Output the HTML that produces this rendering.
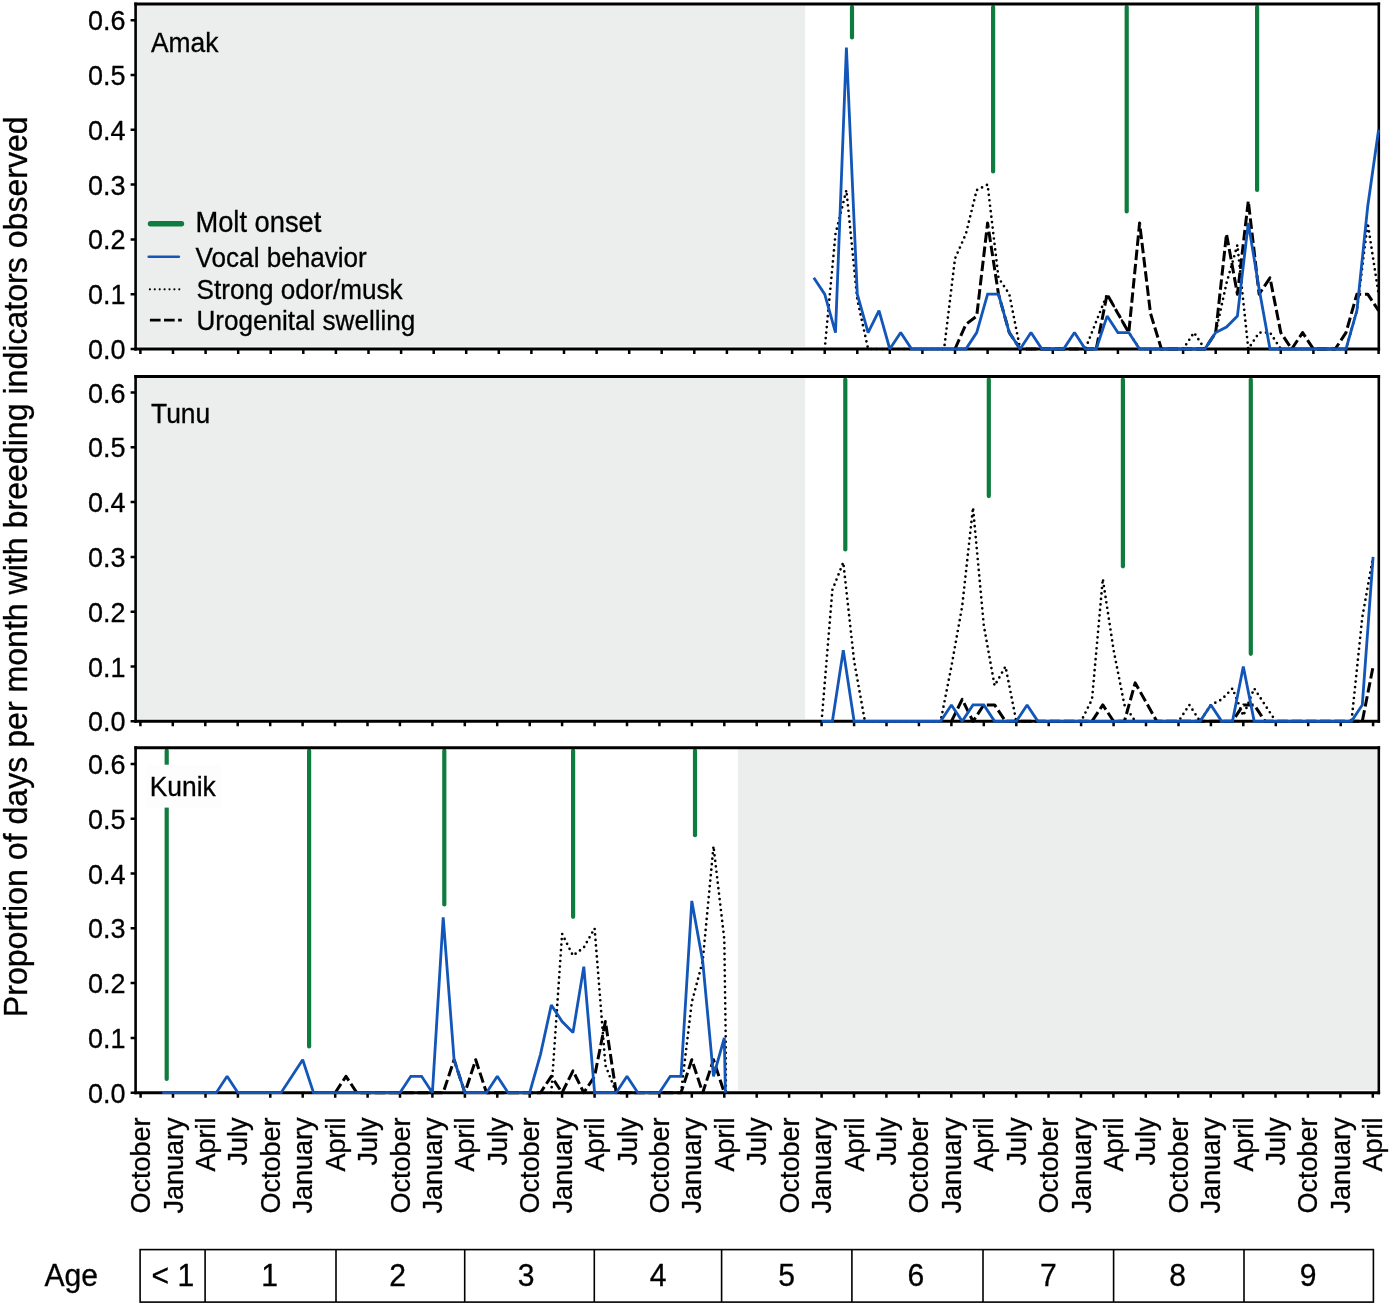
<!DOCTYPE html>
<html lang="en">
<head>
<meta charset="utf-8">
<title>Breeding indicators by month</title>
<style>
html,body{margin:0;padding:0;background:#fff;}
svg{display:block;}
text{font-family:"Liberation Sans", Arial, sans-serif;fill:#000;stroke:#000;stroke-width:0.3px;}
</style>
</head>
<body>
<svg width="1390" height="1306" viewBox="0 0 1390 1306">
<rect x="0" y="0" width="1390" height="1306" fill="#fff"/>
<g>
<rect x="135.6" y="5.5" width="669.6" height="341.0" fill="#eceeed"/>
<line x1="852.0" y1="7.1" x2="852.0" y2="37.4" stroke="#0e7c3e" stroke-width="4.2" stroke-linecap="round"/>
<line x1="993.1" y1="7.1" x2="993.1" y2="171.5" stroke="#0e7c3e" stroke-width="4.2" stroke-linecap="round"/>
<line x1="1126.7" y1="7.1" x2="1126.7" y2="211.5" stroke="#0e7c3e" stroke-width="4.2" stroke-linecap="round"/>
<line x1="1257.1" y1="7.1" x2="1257.1" y2="189.9" stroke="#0e7c3e" stroke-width="4.2" stroke-linecap="round"/>
<polyline points="955.0,349.0 965.9,324.3 976.7,316.1 987.6,223.0 998.5,294.2 1009.3,332.6 1020.2,349.0 1031.0,349.0 1041.9,349.0 1052.8,349.0 1063.6,349.0 1074.5,349.0 1085.3,349.0 1096.2,349.0 1107.1,294.2 1117.9,313.4 1128.8,332.6 1139.6,223.0 1150.5,313.4 1161.4,349.0 1172.2,349.0 1183.1,349.0 1194.0,349.0 1204.8,349.0 1215.7,332.6 1226.5,233.9 1237.4,294.2 1248.3,201.0 1259.1,294.2 1270.0,277.8 1280.8,332.6 1291.7,349.0 1302.6,332.6 1313.4,349.0 1324.3,349.0 1335.2,349.0 1346.0,332.6 1356.9,294.2 1367.7,294.2 1378.6,310.6" fill="none" stroke="#000" stroke-width="3.0" stroke-dasharray="10.5 3.8" stroke-linejoin="round"/>
<polyline points="824.7,349.0 835.5,233.9 846.4,190.1 857.3,299.7 868.1,349.0 879.0,349.0 889.8,349.0 900.7,349.0 911.6,349.0 922.4,349.0 933.3,349.0 944.1,349.0 955.0,258.6 965.9,233.9 976.7,190.1 987.6,184.6 998.5,277.8 1009.3,294.2 1020.2,349.0 1031.0,349.0 1041.9,349.0 1052.8,349.0 1063.6,349.0 1074.5,349.0 1085.3,349.0 1096.2,321.6 1107.1,294.2 1117.9,313.4 1128.8,332.6 1139.6,349.0 1150.5,349.0 1161.4,349.0 1172.2,349.0 1183.1,349.0 1194.0,332.6 1204.8,349.0 1215.7,332.6 1226.5,283.2 1237.4,244.9 1248.3,349.0 1259.1,332.6 1270.0,332.6 1280.8,349.0 1291.7,349.0 1302.6,349.0 1313.4,349.0 1324.3,349.0 1335.2,349.0 1346.0,349.0 1356.9,310.6 1367.7,223.0 1378.6,294.2" fill="none" stroke="#000" stroke-width="2.7" stroke-dasharray="0 5.5" stroke-linecap="round" stroke-linejoin="round"/>
<path d="M134.3 4.1H1380.1M134.3 349.0H1380.1" fill="none" stroke="#000" stroke-width="3"/>
<path d="M135.6 2.6V350.5M1378.8 2.6V350.5" fill="none" stroke="#000" stroke-width="2.6"/>
<path d="M140.4 349.0v5 M173.0 349.0v5 M205.6 349.0v5 M238.2 349.0v5 M270.7 349.0v5 M303.3 349.0v5 M335.9 349.0v5 M368.5 349.0v5 M401.1 349.0v5 M433.7 349.0v5 M466.2 349.0v5 M498.8 349.0v5 M531.4 349.0v5 M564.0 349.0v5 M596.6 349.0v5 M629.2 349.0v5 M661.7 349.0v5 M694.3 349.0v5 M726.9 349.0v5 M759.5 349.0v5 M792.1 349.0v5 M824.7 349.0v5 M857.3 349.0v5 M889.8 349.0v5 M922.4 349.0v5 M955.0 349.0v5 M987.6 349.0v5 M1020.2 349.0v5 M1052.8 349.0v5 M1085.3 349.0v5 M1117.9 349.0v5 M1150.5 349.0v5 M1183.1 349.0v5 M1215.7 349.0v5 M1248.3 349.0v5 M1280.8 349.0v5 M1313.4 349.0v5 M1346.0 349.0v5 M1378.6 349.0v5" stroke="#000" stroke-width="2.5" fill="none"/>
<path d="M135.6 349.0h-5 M135.6 294.2h-5 M135.6 239.4h-5 M135.6 184.6h-5 M135.6 129.8h-5 M135.6 75.0h-5 M135.6 20.2h-5" stroke="#000" stroke-width="2.5" fill="none"/>
<text transform="translate(125.5 359.0) scale(1 1.050)" font-size="27.0" text-anchor="end">0.0</text>
<text transform="translate(125.5 304.2) scale(1 1.050)" font-size="27.0" text-anchor="end">0.1</text>
<text transform="translate(125.5 249.4) scale(1 1.050)" font-size="27.0" text-anchor="end">0.2</text>
<text transform="translate(125.5 194.6) scale(1 1.050)" font-size="27.0" text-anchor="end">0.3</text>
<text transform="translate(125.5 139.8) scale(1 1.050)" font-size="27.0" text-anchor="end">0.4</text>
<text transform="translate(125.5 85.0) scale(1 1.050)" font-size="27.0" text-anchor="end">0.5</text>
<text transform="translate(125.5 30.2) scale(1 1.050)" font-size="27.0" text-anchor="end">0.6</text>
<polyline points="813.8,277.8 824.7,294.2 835.5,332.6 846.4,47.6 857.3,294.2 868.1,332.6 879.0,310.6 889.8,349.0 900.7,332.6 911.6,349.0 922.4,349.0 933.3,349.0 944.1,349.0 955.0,349.0 965.9,349.0 976.7,332.6 987.6,294.2 998.5,294.2 1009.3,332.6 1020.2,349.0 1031.0,332.6 1041.9,349.0 1052.8,349.0 1063.6,349.0 1074.5,332.6 1085.3,349.0 1096.2,349.0 1107.1,316.1 1117.9,332.6 1128.8,332.6 1139.6,349.0 1150.5,349.0 1161.4,349.0 1172.2,349.0 1183.1,349.0 1194.0,349.0 1204.8,349.0 1215.7,332.6 1226.5,327.1 1237.4,316.1 1248.3,223.0 1259.1,288.7 1270.0,349.0 1280.8,349.0 1291.7,349.0 1302.6,349.0 1313.4,349.0 1324.3,349.0 1335.2,349.0 1346.0,349.0 1356.9,310.6 1367.7,206.5 1378.6,129.8" fill="none" stroke="#1156b8" stroke-width="2.8" stroke-linejoin="miter" stroke-miterlimit="1.6"/>
<text transform="translate(151.0 52.4) scale(1 1.050)" font-size="26.4">Amak</text>
</g>
<g>
<rect x="135.6" y="378.0" width="669.6" height="340.8" fill="#eceeed"/>
<line x1="845.3" y1="379.6" x2="845.3" y2="549.5" stroke="#0e7c3e" stroke-width="4.2" stroke-linecap="round"/>
<line x1="988.8" y1="379.6" x2="988.8" y2="496.1" stroke="#0e7c3e" stroke-width="4.2" stroke-linecap="round"/>
<line x1="1122.9" y1="379.6" x2="1122.9" y2="566.3" stroke="#0e7c3e" stroke-width="4.2" stroke-linecap="round"/>
<line x1="1250.8" y1="379.6" x2="1250.8" y2="653.8" stroke="#0e7c3e" stroke-width="4.2" stroke-linecap="round"/>
<polyline points="951.4,721.3 962.2,699.4 973.0,721.3 983.8,704.9 994.6,704.9 1005.5,721.3 1016.3,721.3 1027.1,721.3 1037.9,721.3 1048.7,721.3 1059.5,721.3 1070.3,721.3 1081.1,721.3 1092.0,721.3 1102.8,704.9 1113.6,721.3 1124.4,721.3 1135.2,682.9 1146.0,702.1 1156.8,721.3 1167.6,721.3 1178.5,721.3 1189.3,721.3 1200.1,721.3 1210.9,721.3 1221.7,721.3 1232.5,721.3 1243.3,704.9 1254.2,704.9 1265.0,721.3 1275.8,721.3 1286.6,721.3 1297.4,721.3 1308.2,721.3 1319.0,721.3 1329.8,721.3 1340.7,721.3 1351.5,721.3 1362.3,721.3 1373.1,666.5" fill="none" stroke="#000" stroke-width="3.0" stroke-dasharray="10.5 3.8" stroke-linejoin="round"/>
<polyline points="821.6,721.3 832.4,589.8 843.3,562.4 854.1,661.0 864.9,721.3 875.7,721.3 886.5,721.3 897.3,721.3 908.1,721.3 918.9,721.3 929.8,721.3 940.6,721.3 951.4,666.5 962.2,606.2 973.0,507.6 983.8,625.4 994.6,685.7 1005.5,666.5 1016.3,721.3 1027.1,721.3 1037.9,721.3 1048.7,721.3 1059.5,721.3 1070.3,721.3 1081.1,721.3 1092.0,699.4 1102.8,578.8 1113.6,650.1 1124.4,704.9 1135.2,721.3 1146.0,721.3 1156.8,721.3 1167.6,721.3 1178.5,721.3 1189.3,704.9 1200.1,721.3 1210.9,704.9 1221.7,699.4 1232.5,688.4 1243.3,715.8 1254.2,688.4 1265.0,704.9 1275.8,721.3 1286.6,721.3 1297.4,721.3 1308.2,721.3 1319.0,721.3 1329.8,721.3 1340.7,721.3 1351.5,721.3 1362.3,617.2 1373.1,556.9" fill="none" stroke="#000" stroke-width="2.7" stroke-dasharray="0 5.5" stroke-linecap="round" stroke-linejoin="round"/>
<path d="M134.3 376.6H1380.1M134.3 721.3H1380.1" fill="none" stroke="#000" stroke-width="3"/>
<path d="M135.6 375.1V722.8M1378.8 375.1V722.8" fill="none" stroke="#000" stroke-width="2.6"/>
<path d="M140.4 721.3v5 M172.8 721.3v5 M205.3 721.3v5 M237.7 721.3v5 M270.2 721.3v5 M302.6 721.3v5 M335.0 721.3v5 M367.5 721.3v5 M399.9 721.3v5 M432.4 721.3v5 M464.8 721.3v5 M497.2 721.3v5 M529.7 721.3v5 M562.1 721.3v5 M594.6 721.3v5 M627.0 721.3v5 M659.4 721.3v5 M691.9 721.3v5 M724.3 721.3v5 M756.7 721.3v5 M789.2 721.3v5 M821.6 721.3v5 M854.1 721.3v5 M886.5 721.3v5 M918.9 721.3v5 M951.4 721.3v5 M983.8 721.3v5 M1016.3 721.3v5 M1048.7 721.3v5 M1081.1 721.3v5 M1113.6 721.3v5 M1146.0 721.3v5 M1178.5 721.3v5 M1210.9 721.3v5 M1243.3 721.3v5 M1275.8 721.3v5 M1308.2 721.3v5 M1340.7 721.3v5 M1373.1 721.3v5" stroke="#000" stroke-width="2.5" fill="none"/>
<path d="M135.6 721.3h-5 M135.6 666.5h-5 M135.6 611.7h-5 M135.6 556.9h-5 M135.6 502.1h-5 M135.6 447.3h-5 M135.6 392.5h-5" stroke="#000" stroke-width="2.5" fill="none"/>
<text transform="translate(125.5 731.3) scale(1 1.050)" font-size="27.0" text-anchor="end">0.0</text>
<text transform="translate(125.5 676.5) scale(1 1.050)" font-size="27.0" text-anchor="end">0.1</text>
<text transform="translate(125.5 621.7) scale(1 1.050)" font-size="27.0" text-anchor="end">0.2</text>
<text transform="translate(125.5 566.9) scale(1 1.050)" font-size="27.0" text-anchor="end">0.3</text>
<text transform="translate(125.5 512.1) scale(1 1.050)" font-size="27.0" text-anchor="end">0.4</text>
<text transform="translate(125.5 457.3) scale(1 1.050)" font-size="27.0" text-anchor="end">0.5</text>
<text transform="translate(125.5 402.5) scale(1 1.050)" font-size="27.0" text-anchor="end">0.6</text>
<polyline points="821.6,721.3 832.4,721.3 843.3,650.1 854.1,721.3 864.9,721.3 875.7,721.3 886.5,721.3 897.3,721.3 908.1,721.3 918.9,721.3 929.8,721.3 940.6,721.3 951.4,704.9 962.2,721.3 973.0,704.9 983.8,704.9 994.6,721.3 1005.5,721.3 1016.3,721.3 1027.1,704.9 1037.9,721.3 1048.7,721.3 1059.5,721.3 1070.3,721.3 1081.1,721.3 1092.0,721.3 1102.8,721.3 1113.6,721.3 1124.4,721.3 1135.2,721.3 1146.0,721.3 1156.8,721.3 1167.6,721.3 1178.5,721.3 1189.3,721.3 1200.1,721.3 1210.9,704.9 1221.7,721.3 1232.5,721.3 1243.3,666.5 1254.2,721.3 1265.0,721.3 1275.8,721.3 1286.6,721.3 1297.4,721.3 1308.2,721.3 1319.0,721.3 1329.8,721.3 1340.7,721.3 1351.5,721.3 1362.3,704.9 1373.1,556.9" fill="none" stroke="#1156b8" stroke-width="2.8" stroke-linejoin="miter" stroke-miterlimit="1.6"/>
<text transform="translate(151.0 422.8) scale(1 1.050)" font-size="26.4">Tunu</text>
</g>
<g>
<rect x="737.8" y="749.1" width="639.0" height="341.1" fill="#eceeed"/>
<line x1="166.7" y1="750.7" x2="166.7" y2="1078.9" stroke="#0e7c3e" stroke-width="4.2" stroke-linecap="round"/>
<line x1="309.1" y1="750.7" x2="309.1" y2="1046.4" stroke="#0e7c3e" stroke-width="4.2" stroke-linecap="round"/>
<line x1="444.3" y1="750.7" x2="444.3" y2="904.5" stroke="#0e7c3e" stroke-width="4.2" stroke-linecap="round"/>
<line x1="573.1" y1="750.7" x2="573.1" y2="916.8" stroke="#0e7c3e" stroke-width="4.2" stroke-linecap="round"/>
<line x1="695.0" y1="750.7" x2="695.0" y2="835.2" stroke="#0e7c3e" stroke-width="4.2" stroke-linecap="round"/>
<rect x="145.7" y="764.7" width="75.2" height="42.9" fill="#fdfdfd"/>
<polyline points="335.2,1092.7 346.0,1076.3 356.8,1092.7 367.6,1092.7 378.4,1092.7 389.2,1092.7 400.0,1092.7 410.8,1092.7 421.6,1092.7 432.4,1092.7 443.2,1092.7 454.1,1059.8 464.9,1092.7 475.7,1059.8 486.5,1092.7 497.3,1092.7 508.1,1092.7 518.9,1092.7 529.7,1092.7 540.5,1092.7 551.3,1076.3 562.1,1092.7 573.0,1070.8 583.8,1092.7 594.6,1076.3 605.4,1021.5 616.2,1092.7 627.0,1092.7 637.8,1092.7 648.6,1092.7 659.4,1092.7 670.2,1092.7 681.0,1092.7 691.8,1059.8 702.7,1092.7 713.5,1059.8 724.3,1092.7" fill="none" stroke="#000" stroke-width="3.0" stroke-dasharray="10.5 3.8" stroke-linejoin="round"/>
<polyline points="551.3,1092.7 562.1,933.8 573.0,955.7 583.8,947.5 594.6,928.3 605.4,1065.3 616.2,1092.7 627.0,1092.7 637.8,1092.7 648.6,1092.7 659.4,1092.7 670.2,1092.7 681.0,1092.7 691.8,1002.3 702.7,961.2 713.5,846.1 724.3,939.3 725.7,1037.9 725.9,1092.7" fill="none" stroke="#000" stroke-width="2.7" stroke-dasharray="0 5.5" stroke-linecap="round" stroke-linejoin="round"/>
<path d="M134.3 747.7H1380.1M134.3 1092.7H1380.1" fill="none" stroke="#000" stroke-width="3"/>
<path d="M135.6 746.2V1094.2M1378.8 746.2V1094.2" fill="none" stroke="#000" stroke-width="2.6"/>
<path d="M140.6 1092.7v5 M173.0 1092.7v5 M205.5 1092.7v5 M237.9 1092.7v5 M270.3 1092.7v5 M302.7 1092.7v5 M335.2 1092.7v5 M367.6 1092.7v5 M400.0 1092.7v5 M432.4 1092.7v5 M464.9 1092.7v5 M497.3 1092.7v5 M529.7 1092.7v5 M562.1 1092.7v5 M594.6 1092.7v5 M627.0 1092.7v5 M659.4 1092.7v5 M691.8 1092.7v5 M724.3 1092.7v5 M756.7 1092.7v5 M789.1 1092.7v5 M821.6 1092.7v5 M854.0 1092.7v5 M886.4 1092.7v5 M918.8 1092.7v5 M951.3 1092.7v5 M983.7 1092.7v5 M1016.1 1092.7v5 M1048.5 1092.7v5 M1081.0 1092.7v5 M1113.4 1092.7v5 M1145.8 1092.7v5 M1178.2 1092.7v5 M1210.7 1092.7v5 M1243.1 1092.7v5 M1275.5 1092.7v5 M1307.9 1092.7v5 M1340.4 1092.7v5 M1372.8 1092.7v5" stroke="#000" stroke-width="2.5" fill="none"/>
<path d="M135.6 1092.7h-5 M135.6 1037.9h-5 M135.6 983.1h-5 M135.6 928.3h-5 M135.6 873.5h-5 M135.6 818.7h-5 M135.6 763.9h-5" stroke="#000" stroke-width="2.5" fill="none"/>
<text transform="translate(125.5 1102.7) scale(1 1.050)" font-size="27.0" text-anchor="end">0.0</text>
<text transform="translate(125.5 1047.9) scale(1 1.050)" font-size="27.0" text-anchor="end">0.1</text>
<text transform="translate(125.5 993.1) scale(1 1.050)" font-size="27.0" text-anchor="end">0.2</text>
<text transform="translate(125.5 938.3) scale(1 1.050)" font-size="27.0" text-anchor="end">0.3</text>
<text transform="translate(125.5 883.5) scale(1 1.050)" font-size="27.0" text-anchor="end">0.4</text>
<text transform="translate(125.5 828.7) scale(1 1.050)" font-size="27.0" text-anchor="end">0.5</text>
<text transform="translate(125.5 773.9) scale(1 1.050)" font-size="27.0" text-anchor="end">0.6</text>
<polyline points="162.2,1092.7 173.0,1092.7 183.8,1092.7 194.6,1092.7 205.5,1092.7 216.3,1092.7 227.1,1076.3 237.9,1092.7 248.7,1092.7 259.5,1092.7 270.3,1092.7 281.1,1092.7 291.9,1076.3 302.7,1059.8 313.5,1092.7 324.3,1092.7 335.2,1092.7 346.0,1092.7 356.8,1092.7 367.6,1092.7 378.4,1092.7 389.2,1092.7 400.0,1092.7 410.8,1076.3 421.6,1076.3 432.4,1092.7 443.2,917.3 454.1,1059.8 464.9,1092.7 475.7,1092.7 486.5,1092.7 497.3,1076.3 508.1,1092.7 518.9,1092.7 529.7,1092.7 540.5,1054.3 551.3,1005.0 562.1,1021.5 573.0,1032.4 583.8,966.7 594.6,1092.7 605.4,1092.7 616.2,1092.7 627.0,1076.3 637.8,1092.7 648.6,1092.7 659.4,1092.7 670.2,1076.3 681.0,1076.3 691.8,900.9 702.7,961.2 713.5,1076.3 724.3,1037.9 725.4,1092.7" fill="none" stroke="#1156b8" stroke-width="2.8" stroke-linejoin="miter" stroke-miterlimit="1.6"/>
<text transform="translate(149.7 795.8) scale(1 1.050)" font-size="26.4">Kunik</text>
</g>
<g>
<line x1="150.5" y1="223.8" x2="181.5" y2="223.8" stroke="#0e7c3e" stroke-width="5.4" stroke-linecap="round"/>
<text transform="translate(195.4 232.0) scale(1 1.050)" font-size="27.3">Molt onset</text>
<line x1="148.7" y1="256.7" x2="178.9" y2="256.7" stroke="#1156b8" stroke-width="2.5" stroke-linecap="round"/>
<text transform="translate(195.6 266.6) scale(1 1.050)" font-size="26.1">Vocal behavior</text>
<line x1="149.9" y1="289.3" x2="181.0" y2="289.3" stroke="#000" stroke-width="2.2" stroke-dasharray="0 4.9" stroke-linecap="round"/>
<text transform="translate(196.6 299.3) scale(1 1.050)" font-size="26.1">Strong odor/musk</text>
<line x1="149.9" y1="320.2" x2="181.8" y2="320.2" stroke="#000" stroke-width="2.7" stroke-dasharray="10.7 3.4"/>
<text transform="translate(196.4 330.2) scale(1 1.050)" font-size="26.1">Urogenital swelling</text>
</g>
<text transform="translate(27.3 1017.2) rotate(-90) scale(1 1.050)" font-size="32.1">Proportion of days per month with breeding indicators observed</text>
<g>
<text transform="translate(150.1 1117.4) rotate(-90) scale(1 1.050)" font-size="27.0" text-anchor="end">October</text>
<text transform="translate(182.5 1117.4) rotate(-90) scale(1 1.050)" font-size="27.0" text-anchor="end">January</text>
<text transform="translate(215.0 1117.4) rotate(-90) scale(1 1.050)" font-size="27.0" text-anchor="end">April</text>
<text transform="translate(247.4 1117.4) rotate(-90) scale(1 1.050)" font-size="27.0" text-anchor="end">July</text>
<text transform="translate(279.8 1117.4) rotate(-90) scale(1 1.050)" font-size="27.0" text-anchor="end">October</text>
<text transform="translate(312.2 1117.4) rotate(-90) scale(1 1.050)" font-size="27.0" text-anchor="end">January</text>
<text transform="translate(344.7 1117.4) rotate(-90) scale(1 1.050)" font-size="27.0" text-anchor="end">April</text>
<text transform="translate(377.1 1117.4) rotate(-90) scale(1 1.050)" font-size="27.0" text-anchor="end">July</text>
<text transform="translate(409.5 1117.4) rotate(-90) scale(1 1.050)" font-size="27.0" text-anchor="end">October</text>
<text transform="translate(441.9 1117.4) rotate(-90) scale(1 1.050)" font-size="27.0" text-anchor="end">January</text>
<text transform="translate(474.4 1117.4) rotate(-90) scale(1 1.050)" font-size="27.0" text-anchor="end">April</text>
<text transform="translate(506.8 1117.4) rotate(-90) scale(1 1.050)" font-size="27.0" text-anchor="end">July</text>
<text transform="translate(539.2 1117.4) rotate(-90) scale(1 1.050)" font-size="27.0" text-anchor="end">October</text>
<text transform="translate(571.6 1117.4) rotate(-90) scale(1 1.050)" font-size="27.0" text-anchor="end">January</text>
<text transform="translate(604.1 1117.4) rotate(-90) scale(1 1.050)" font-size="27.0" text-anchor="end">April</text>
<text transform="translate(636.5 1117.4) rotate(-90) scale(1 1.050)" font-size="27.0" text-anchor="end">July</text>
<text transform="translate(668.9 1117.4) rotate(-90) scale(1 1.050)" font-size="27.0" text-anchor="end">October</text>
<text transform="translate(701.3 1117.4) rotate(-90) scale(1 1.050)" font-size="27.0" text-anchor="end">January</text>
<text transform="translate(733.8 1117.4) rotate(-90) scale(1 1.050)" font-size="27.0" text-anchor="end">April</text>
<text transform="translate(766.2 1117.4) rotate(-90) scale(1 1.050)" font-size="27.0" text-anchor="end">July</text>
<text transform="translate(798.6 1117.4) rotate(-90) scale(1 1.050)" font-size="27.0" text-anchor="end">October</text>
<text transform="translate(831.1 1117.4) rotate(-90) scale(1 1.050)" font-size="27.0" text-anchor="end">January</text>
<text transform="translate(863.5 1117.4) rotate(-90) scale(1 1.050)" font-size="27.0" text-anchor="end">April</text>
<text transform="translate(895.9 1117.4) rotate(-90) scale(1 1.050)" font-size="27.0" text-anchor="end">July</text>
<text transform="translate(928.3 1117.4) rotate(-90) scale(1 1.050)" font-size="27.0" text-anchor="end">October</text>
<text transform="translate(960.8 1117.4) rotate(-90) scale(1 1.050)" font-size="27.0" text-anchor="end">January</text>
<text transform="translate(993.2 1117.4) rotate(-90) scale(1 1.050)" font-size="27.0" text-anchor="end">April</text>
<text transform="translate(1025.6 1117.4) rotate(-90) scale(1 1.050)" font-size="27.0" text-anchor="end">July</text>
<text transform="translate(1058.0 1117.4) rotate(-90) scale(1 1.050)" font-size="27.0" text-anchor="end">October</text>
<text transform="translate(1090.5 1117.4) rotate(-90) scale(1 1.050)" font-size="27.0" text-anchor="end">January</text>
<text transform="translate(1122.9 1117.4) rotate(-90) scale(1 1.050)" font-size="27.0" text-anchor="end">April</text>
<text transform="translate(1155.3 1117.4) rotate(-90) scale(1 1.050)" font-size="27.0" text-anchor="end">July</text>
<text transform="translate(1187.7 1117.4) rotate(-90) scale(1 1.050)" font-size="27.0" text-anchor="end">October</text>
<text transform="translate(1220.2 1117.4) rotate(-90) scale(1 1.050)" font-size="27.0" text-anchor="end">January</text>
<text transform="translate(1252.6 1117.4) rotate(-90) scale(1 1.050)" font-size="27.0" text-anchor="end">April</text>
<text transform="translate(1285.0 1117.4) rotate(-90) scale(1 1.050)" font-size="27.0" text-anchor="end">July</text>
<text transform="translate(1317.4 1117.4) rotate(-90) scale(1 1.050)" font-size="27.0" text-anchor="end">October</text>
<text transform="translate(1349.9 1117.4) rotate(-90) scale(1 1.050)" font-size="27.0" text-anchor="end">January</text>
<text transform="translate(1382.3 1117.4) rotate(-90) scale(1 1.050)" font-size="27.0" text-anchor="end">April</text>
</g>
<g>
<text transform="translate(44.5 1286.4) scale(1 1.060)" font-size="30.1">Age</text>
<rect x="140.1" y="1249.6" width="1233.3" height="52.5" fill="#fff" stroke="#000" stroke-width="1.6"/>
<path d="M205.1 1249.6V1302.1 M336.0 1249.6V1302.1 M464.7 1249.6V1302.1 M594.3 1249.6V1302.1 M721.6 1249.6V1302.1 M851.9 1249.6V1302.1 M983.0 1249.6V1302.1 M1113.6 1249.6V1302.1 M1244.0 1249.6V1302.1" stroke="#000" stroke-width="1.6" fill="none"/>
<text transform="translate(172.9 1286.2) scale(1 1.060)" font-size="30.1" text-anchor="middle">&lt; 1</text>
<text transform="translate(269.7 1286.2) scale(1 1.060)" font-size="30.1" text-anchor="middle">1</text>
<text transform="translate(397.7 1286.2) scale(1 1.060)" font-size="30.1" text-anchor="middle">2</text>
<text transform="translate(526.1 1286.2) scale(1 1.060)" font-size="30.1" text-anchor="middle">3</text>
<text transform="translate(658.1 1286.2) scale(1 1.060)" font-size="30.1" text-anchor="middle">4</text>
<text transform="translate(786.5 1286.2) scale(1 1.060)" font-size="30.1" text-anchor="middle">5</text>
<text transform="translate(915.9 1286.2) scale(1 1.060)" font-size="30.1" text-anchor="middle">6</text>
<text transform="translate(1048.3 1286.2) scale(1 1.060)" font-size="30.1" text-anchor="middle">7</text>
<text transform="translate(1177.6 1286.2) scale(1 1.060)" font-size="30.1" text-anchor="middle">8</text>
<text transform="translate(1308.1 1286.2) scale(1 1.060)" font-size="30.1" text-anchor="middle">9</text>
</g>
</svg>
</body>
</html>
